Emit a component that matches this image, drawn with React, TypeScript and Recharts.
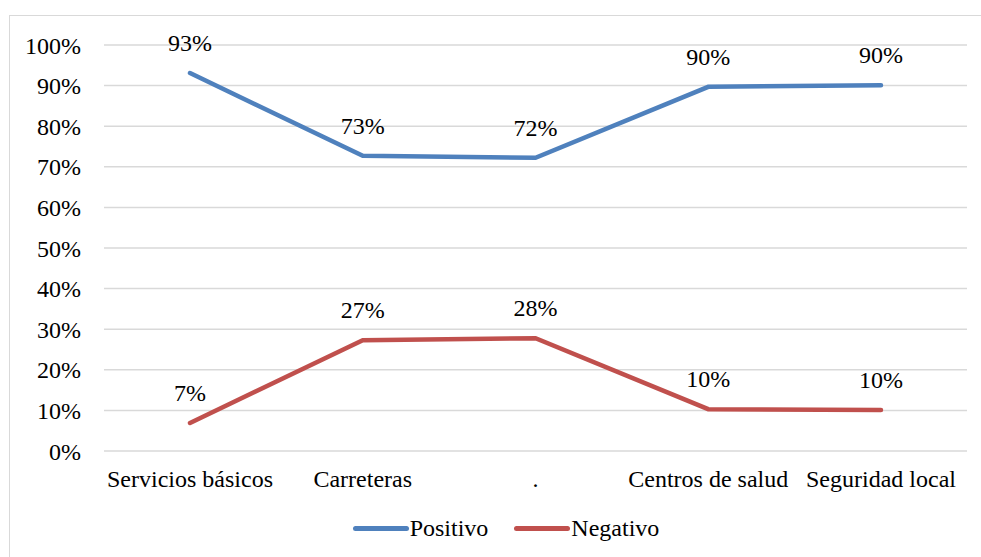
import { CartesianGrid, LabelList, Line, LineChart, XAxis, YAxis } from 'recharts';

const categories = ['Servicios básicos', 'Carreteras', '.', 'Centros de salud', 'Seguridad local'];
const positivo = [93.1, 72.7, 72.2, 89.7, 90.1];
const negativo = [6.9, 27.3, 27.8, 10.3, 10.1];
const yTicks = [0, 10, 20, 30, 40, 50, 60, 70, 80, 90, 100];

const BLUE = '#4F81BD';
const RED = '#C0504D';
const FONT = '"Liberation Serif", "Times New Roman", serif';
const FS = 24;

const data = categories.map((name, i) => ({
  name,
  positivo: positivo[i],
  negativo: negativo[i],
}));

const pct = (v: number) => `${Math.round(v)}%`;

function LegendItem({ color, label }: { color: string; label: string }) {
  return (
    <div style={{ display: 'flex', alignItems: 'center' }}>
      <div style={{ width: 56, height: 5, borderRadius: 3, background: color }} />
      <span style={{ marginLeft: 1 }}>{label}</span>
    </div>
  );
}

export default function App() {
  return (
    <div style={{ position: 'absolute', left: 0, top: 0, width: 981, height: 557, background: '#fff', fontFamily: FONT }}>
      <style>{`.chart svg text { font-family: ${FONT}; }`}</style>
      <div
        style={{
          position: 'absolute',
          left: 9,
          top: 15,
          width: 990,
          height: 560,
          border: '1.5px solid #d9d9d9',
        }}
      />
      <div className="chart" style={{ position: 'absolute', left: 0, top: 0 }}>
        <LineChart width={981} height={557} data={data} margin={{ top: 45, right: 14, bottom: 76, left: 0 }}>
          <CartesianGrid vertical={false} stroke="#d9d9d9" strokeWidth={1.5} />
          <XAxis
            dataKey="name"
            axisLine={false}
            tickLine={false}
            tickSize={0}
            tickMargin={19}
            height={30}
            padding={{ left: 86, right: 86 }}
            interval={0}
            tick={{ fill: '#000', fontSize: FS }}
          />
          <YAxis
            domain={[0, 100]}
            ticks={yTicks}
            tickFormatter={(v: number) => `${v}%`}
            axisLine={false}
            tickLine={false}
            tickSize={0}
            tickMargin={23}
            width={104}
            interval={0}
            tick={{ fill: '#000', fontSize: FS }}
          />
          <Line
            dataKey="positivo"
            stroke={BLUE}
            strokeWidth={4.5}
            strokeLinecap="round"
            dot={false}
            isAnimationActive={false}
          >
            <LabelList dataKey="positivo" position="top" offset={22} formatter={pct} fill="#000" fontSize={FS} />
          </Line>
          <Line
            dataKey="negativo"
            stroke={RED}
            strokeWidth={4.5}
            strokeLinecap="round"
            dot={false}
            isAnimationActive={false}
          >
            <LabelList dataKey="negativo" position="top" offset={22} formatter={pct} fill="#000" fontSize={FS} />
          </Line>
        </LineChart>
      </div>
      <div
        style={{
          position: 'absolute',
          left: 0,
          top: 515,
          width: 981,
          display: 'flex',
          justifyContent: 'center',
          gap: 26,
          fontSize: FS,
          color: '#000',
          paddingLeft: 31,
          boxSizing: 'border-box',
        }}
      >
        <LegendItem color={BLUE} label="Positivo" />
        <LegendItem color={RED} label="Negativo" />
      </div>
    </div>
  );
}
